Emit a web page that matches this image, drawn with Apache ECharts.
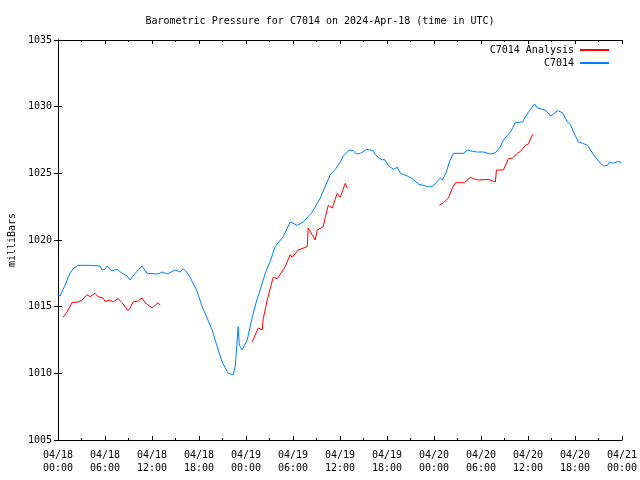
<!DOCTYPE html>
<html>
<head>
<meta charset="utf-8">
<script src="https://cdn.jsdelivr.net/npm/echarts@6/dist/echarts.min.js"></script>
<style>html,body{margin:0;padding:0;background:#fff;}#c{width:640px;height:480px;}</style>
</head>
<body>
<div id="c"></div>
<script>
// Hours since 2024-04-18 00:00 UTC
const stationHours = [0.0,0.26,0.89,1.53,2.04,2.56,4.09,5.37,5.62,6.0,6.26,6.64,6.9,7.54,8.18,8.82,9.2,9.84,10.73,11.37,12.78,13.29,13.93,14.95,15.59,15.97,16.48,16.87,17.76,18.4,18.78,19.68,20.32,20.96,21.72,22.36,22.62,22.74,23.0,23.13,23.26,23.51,24.15,24.53,24.92,25.43,25.56,25.81,26.2,26.45,27.09,27.73,28.75,29.64,30.54,31.31,32.46,33.48,34.76,35.4,36.03,36.42,37.18,37.69,38.08,38.59,39.36,39.61,40.25,40.51,40.89,41.4,41.66,42.17,42.81,43.32,43.7,44.6,45.23,46.0,46.89,47.28,47.79,48.43,48.81,49.07,49.58,49.96,50.47,51.75,52.26,52.9,53.54,54.31,55.2,55.84,56.48,56.86,57.76,58.4,59.29,60.06,60.82,61.21,61.46,62.23,62.87,63.25,63.76,64.4,65.04,65.42,65.81,66.45,66.96,67.6,68.36,69.26,69.64,70.15,70.41,70.92,71.43,71.94];
const stationValues = [1015.9,1015.8,1016.6,1017.5,1017.9,1018.1,1018.1,1018.05,1017.75,1017.8,1018.05,1017.8,1017.7,1017.8,1017.5,1017.3,1017.0,1017.5,1018.05,1017.5,1017.45,1017.6,1017.45,1017.75,1017.6,1017.85,1017.55,1017.2,1016.15,1015.0,1014.5,1013.25,1012.0,1010.85,1010.0,1009.9,1010.5,1011.4,1013.5,1012.2,1012.0,1011.75,1012.5,1013.5,1014.5,1015.6,1015.8,1015.7,1017.0,1017.5,1018.4,1019.5,1020.25,1021.35,1021.1,1021.35,1022.1,1023.15,1024.9,1025.3,1025.85,1026.3,1026.75,1026.7,1026.45,1026.5,1026.8,1026.65,1026.7,1026.4,1026.2,1026.0,1026.05,1025.6,1025.3,1025.45,1025.0,1024.8,1024.6,1024.2,1024.05,1024.0,1024.0,1024.4,1024.65,1024.5,1025.1,1025.85,1026.5,1026.5,1026.75,1026.65,1026.6,1026.6,1026.45,1026.55,1027.0,1027.5,1028.1,1028.8,1028.85,1029.6,1030.2,1029.9,1030.05,1029.75,1029.3,1029.45,1029.7,1029.55,1028.85,1028.65,1028.1,1027.35,1027.25,1027.1,1026.4,1025.75,1025.55,1025.6,1025.85,1025.75,1025.9,1025.8];

// Analysis: null marks a gap between segments
const analysisHours = [0.64,1.15,1.79,1.92,2.56,3.07,3.71,4.09,4.73,5.11,5.75,6.01,6.64,7.03,7.67,8.18,8.94,9.2,9.58,10.09,10.73,11.12,12.01,12.39,12.78,13.03,
  18.9,
  24.79,24.92,25.56,26.07,26.2,26.71,26.83,27.47,27.98,29.0,29.64,29.9,30.67,31.82,31.94,32.84,33.1,33.86,34.12,34.5,35.01,35.65,36.03,36.67,36.93,
  42.8,
  48.68,48.81,49.2,49.84,50.35,50.73,51.88,52.64,53.03,53.67,54.95,55.84,55.97,56.86,57.5,58.01,58.65,59.03,59.67,60.06,60.57,60.69];
const analysisValues = [1014.2,1014.6,1015.3,1015.15,1015.35,1015.5,1015.9,1015.75,1016.0,1015.75,1015.65,1015.4,1015.5,1015.35,1015.6,1015.3,1014.7,1014.9,1015.35,1015.4,1015.65,1015.3,1014.9,1015.1,1015.3,1015.1,
  null,
  1012.35,1012.2,1013.4,1013.25,1014.1,1015.5,1015.4,1017.2,1017.1,1018.0,1018.9,1018.7,1019.25,1019.5,1020.9,1020.0,1020.75,1021.0,1021.7,1022.6,1022.4,1023.5,1023.2,1024.25,1023.9,
  null,
  1022.6,1022.75,1022.8,1023.15,1023.9,1024.3,1024.3,1024.7,1024.6,1024.5,1024.55,1024.35,1025.25,1025.25,1026.1,1026.15,1026.5,1026.65,1027.1,1027.2,1027.9,1027.85];

const xTickLabels = ["04/18\n00:00","04/18\n06:00","04/18\n12:00","04/18\n18:00","04/19\n00:00","04/19\n06:00","04/19\n12:00","04/19\n18:00","04/20\n00:00","04/20\n06:00","04/20\n12:00","04/20\n18:00","04/21\n00:00"];
const yTicks = [1005,1010,1015,1020,1025,1030,1035];

const seriesNames = ["C7014 Analysis","C7014"];
const titleText = "Barometric Pressure for C7014 on 2024-Apr-18 (time in UTC)";
const yAxisName = "milliBars";

const FONT = "DejaVu Sans Mono";
const pair = (xs, ys) => xs.map((x, i) => [x, ys[i]]);

const chart = echarts.init(document.getElementById('c'), null, {renderer: 'canvas'});
const axisLine = {show: true, lineStyle: {color: '#000', width: 1}};
const xBase = {
  type: 'value', min: 0, max: 72, interval: 6,
  axisLine: axisLine,
  axisTick: {show: true, inside: true, length: 4, lineStyle: {color: '#000'}},
  minorTick: {show: true, splitNumber: 2, length: 2, lineStyle: {color: '#000'}},
  splitLine: {show: false}
};
const yBase = {
  type: 'value', min: yTicks[0], max: yTicks[yTicks.length - 1], interval: 5,
  axisLine: axisLine,
  axisTick: {show: true, inside: true, length: 4, lineStyle: {color: '#000'}},
  splitLine: {show: false}
};

chart.setOption({
  animation: false,
  backgroundColor: '#fff',
  title: {
    text: titleText, left: 'center', top: 11,
    textStyle: {fontFamily: FONT, fontSize: 10, fontWeight: 'normal', color: '#000'}
  },
  legend: {
    orient: 'vertical', right: 26, top: 40, align: 'right',
    itemWidth: 29, itemHeight: 2, itemGap: 3,
    icon: 'rect',
    data: seriesNames,
    textStyle: {fontFamily: FONT, fontSize: 10, color: '#000', padding: [0, 1, 0, 0]}
  },
  grid: {left: 58, right: 18, top: 40, bottom: 40, containLabel: false, outerBoundsMode: 'none'},
  xAxis: [
    Object.assign({}, xBase, {
      position: 'bottom',
      axisLabel: {
        fontFamily: FONT, fontSize: 10, color: '#000', margin: 9, lineHeight: 13,
        formatter: v => xTickLabels[Math.round(v / 6)] || ''
      }
    }),
    Object.assign({}, xBase, {position: 'top', axisLabel: {show: false}})
  ],
  yAxis: [
    Object.assign({}, yBase, {
      position: 'left',
      name: yAxisName, nameLocation: 'middle', nameGap: 40, nameRotate: 90,
      nameTextStyle: {fontFamily: FONT, fontSize: 10, color: '#000'},
      axisLabel: {fontFamily: FONT, fontSize: 10, color: '#000', margin: 6, formatter: v => String(v)}
    }),
    Object.assign({}, yBase, {position: 'right', axisLabel: {show: false}})
  ],
  series: [
    {
      name: seriesNames[0], type: 'line', xAxisIndex: 0, yAxisIndex: 0,
      data: pair(analysisHours, analysisValues),
      showSymbol: false, symbol: 'none', connectNulls: false,
      lineStyle: {color: '#ff0000', width: 1}, itemStyle: {color: '#ff0000'}
    },
    {
      name: seriesNames[1], type: 'line', xAxisIndex: 0, yAxisIndex: 0,
      data: pair(stationHours, stationValues),
      showSymbol: false, symbol: 'none',
      lineStyle: {color: '#0080ff', width: 1}, itemStyle: {color: '#0080ff'}
    }
  ]
});
</script>
</body>
</html>
